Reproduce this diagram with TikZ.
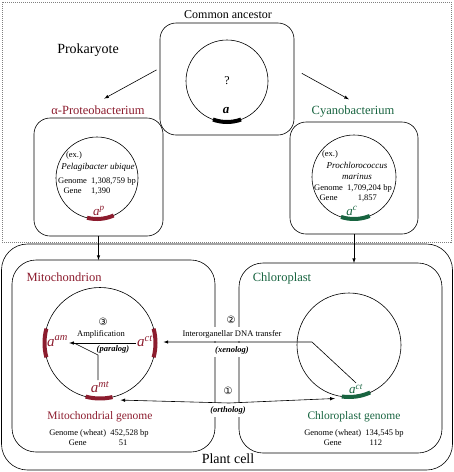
\documentclass[tikz,border=0pt]{standalone}
\usepackage{fontspec}
\setmainfont{Liberation Serif}
\newfontfamily\circfont{DejaVu Sans}
\usepackage{xcolor}
\usetikzlibrary{arrows,positioning}
\definecolor{mitored}{RGB}{140,28,46}
\definecolor{plastgreen}{RGB}{24,100,64}

\begin{document}
\begin{tikzpicture}[x=1pt, y=-1pt, line width=0.6pt,
box/.style={draw, rounded corners=16pt, inner sep=0, outer sep=0},
genome/.style={draw, circle, inner sep=0, outer sep=0},
gene/.style={line width=4pt},
lab/.style={font=\fontsize{12.5}{14}\selectfont},
info/.style={font=\fontsize{8.5}{10}\selectfont, align=center, inner sep=1pt},
note/.style={font=\fontsize{8.5}{10}\selectfont, inner xsep=1.5pt, inner ysep=3.5pt},
hom/.style={font=\fontsize{8.5}{10}\selectfont\bfseries\itshape, inner xsep=1.5pt, inner ysep=3.5pt},
genelab/.style={font=\fontsize{15}{15}\selectfont\itshape, inner sep=1pt},
circ/.style={font={\circfont\fontsize{10}{12}\selectfont}, inner sep=1pt},
arr/.style={-latex}
]
\useasboundingbox (0,0) rectangle (454,472);

\node[draw=gray, densely dotted, line width=1pt, minimum width=449pt, minimum height=240pt, inner sep=0] (prok) at (226.5,122) {};
\node[box, rounded corners=26pt, minimum width=451pt, minimum height=226pt] (cell) at (227,357) {};

\node[font=\fontsize{12}{14}\selectfont] (ancname) at (228,15) {Common ancestor};
\node[font=\fontsize{14}{16}\selectfont] (prokname) at (88,50) {Prokaryote};
\node[box, minimum width=134pt, minimum height=112pt] (anc) at (227,79) {};
\node[genome, minimum size=82pt] (anccirc) at (227,81) {};
\node[font=\fontsize{12}{14}\selectfont] (unknown) at (anccirc) {?};
\draw[gene] (anccirc.250) arc[start angle=250, end angle=290, radius=41pt];
\node[genelab, font=\fontsize{13}{13}\selectfont\bfseries\itshape] (ga) at (226,111) {a};

\node[lab, text=mitored] (alpha) at (98,110) {α-Proteobacterium};
\node[box, minimum width=129pt, minimum height=118pt] (pbox) at (98.5,177) {};
\node[genome, minimum size=82pt] (pcirc) at (97,178) {};
\node[info] (pex) at (74,155) {(ex.)};
\node[info, font=\fontsize{9}{11}\selectfont\itshape] (pname) at (98,167) {Pelagibacter ubique};
\node[info] (pdata) at (97,186) {\begin{tabular}{@{}c@{\ \ }l@{}}Genome&1,308,759 bp\\Gene&1,390\end{tabular}};
\draw[gene, mitored] (pcirc.256) arc[start angle=256, end angle=294, radius=41pt];
\node[genelab, font=\fontsize{13}{13}\selectfont\itshape, text=mitored] (gp) at (99,211) {a\textsuperscript{p}};

\node[lab, text=plastgreen] (cyano) at (353,112) {Cyanobacterium};
\node[box, minimum width=128pt, minimum height=112pt] (cbox) at (354,178) {};
\node[genome, minimum size=84pt] (ccirc) at (354,177) {};
\node[info] (cex) at (330,154) {(ex.)};
\node[info, font=\fontsize{9}{11}\selectfont\itshape] (cname) at (357,170.5) {Prochlorococcus\\marinus};
\node[info] (cdata) at (353,193) {\begin{tabular}{@{}c@{\ \ }l@{}}Genome&1,709,204 bp\\Gene&\phantom{1,7}1,857\end{tabular}};
\draw[gene, plastgreen] (ccirc.252) arc[start angle=252, end angle=292, radius=42pt];
\node[genelab, font=\fontsize{13}{13}\selectfont\itshape, text=plastgreen] (gc) at (352,211) {a\textsuperscript{c}};

\draw[arr, shorten <=4pt, shorten >=7pt] ([yshift=11pt]anc.west) -- (alpha.north);
\draw[arr, shorten <=9pt, shorten >=7pt] ([yshift=10pt]anc.east) -- ([xshift=2pt]cyano.north);

\node[box, rounded corners=24pt, minimum width=203pt, minimum height=192pt] (mito) at (113.5,356) {};
\node[lab, text=mitored] (mitoname) at (64,277) {Mitochondrion};
\node[genome, minimum size=111pt] (mcirc) at (100,343) {};
\draw[gene, mitored] (mcirc.165) arc[start angle=165, end angle=195, radius=55.5pt];
\draw[gene, mitored] (mcirc.-15) arc[start angle=-15, end angle=15, radius=55.5pt];
\draw[gene, mitored] (mcirc.255) arc[start angle=255, end angle=283, radius=55.5pt];
\node[genelab, text=mitored] (mam) at (57.5,341) {a\textsuperscript{am}};
\node[genelab, text=mitored] (mct) at (145,341) {a\textsuperscript{ct}};
\node[genelab, text=mitored] (mmt) at (100,387) {a\textsuperscript{mt}};
\node[circ] (n3) at (103,322) {③};
\node[note] (amp) at (101,334) {Amplification};
\node[hom] (para) at (113,349) {(paralog)};
\draw[arr] (mct.west |- mcirc) -- (mam.east |- mcirc);
\coordinate (ampjoin) at (74,343);
\coordinate (ampbend) at (98,355);
\draw (mmt.north -| ampbend) -- (ampbend) -- (ampjoin);
\node[lab, font=\fontsize{11.5}{13}\selectfont, text=mitored] (mgen) at (100,417) {Mitochondrial genome};
\node[info] (mdata) at (99,438) {\begin{tabular}{@{}c@{\ \ }l@{}}Genome (wheat)&452,528 bp\\Gene&\phantom{45}51\end{tabular}};

\node[box, rounded corners=24pt, minimum width=203pt, minimum height=190pt] (chl) at (340.5,358) {};
\node[lab, text=plastgreen] (chlname) at (282,278) {Chloroplast};
\node[genome, minimum size=104pt] (chlcirc) at (349,345) {};
\draw[gene, plastgreen] (chlcirc.262) arc[start angle=262, end angle=294, radius=52pt];
\node[genelab, font=\fontsize{13}{13}\selectfont\itshape, text=plastgreen] (cct) at (356,389) {a\textsuperscript{ct}};
\node[lab, font=\fontsize{11.5}{13}\selectfont, text=plastgreen] (cgen) at (354,417) {Chloroplast genome};
\node[info] (chldata) at (354,438) {\begin{tabular}{@{}c@{\ \ }l@{}}Genome (wheat)&134,545 bp\\Gene&\phantom{1}112\end{tabular}};

\draw[arr] (pbox.south) -- (pbox.south |- mito.north);
\draw[arr] (cbox.south) -- (cbox.south |- chl.north);

\node[note, fill=white] (xfer) at (232,334) {Interorganellar DNA transfer};
\node[hom, fill=white] (xeno) at (232,350) {(xenolog)};
\node[circ, fill=white] (n2) at (231,320) {②};
\coordinate (xbend) at (312,342);
\draw[arr, shorten >=8pt] (cct.north) -- (xbend) -- (xbend -| mcirc.east);

\node[circ] (n1) at (228,391) {①};
\node[hom, fill=white] (ortho) at (228,410) {(ortholog)};
\coordinate (okink) at (229,403);
\draw[latex-latex] ([shift={(8pt,-3pt)}]mcirc.283) -- (okink) -- ([shift={(-7pt,-2pt)}]chlcirc.262);

\node[font=\fontsize{14}{16}\selectfont] (cellname) at (228,459) {Plant cell};
\end{tikzpicture}
\end{document}
